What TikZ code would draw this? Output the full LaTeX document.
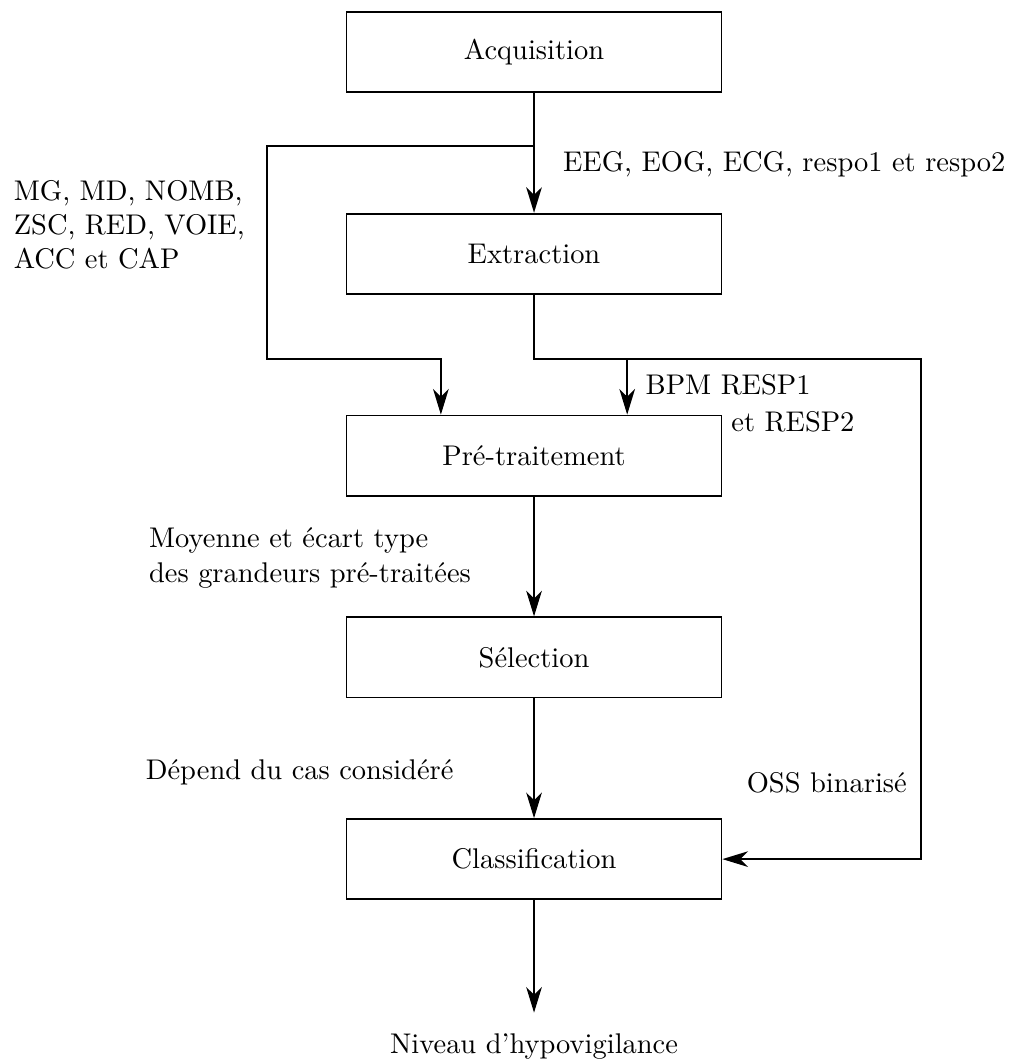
\documentclass[tikz,border=0pt]{standalone}
\usetikzlibrary{positioning,arrows.meta}

\begin{document}
\begin{tikzpicture}[>={Stealth[length=9pt,width=5.5pt,inset=2.7pt]}, semithick, node distance=1.48cm,
  bloc/.style={draw, minimum width=4.63cm, minimum height=0.99cm}]
\useasboundingbox (-6.593,0.642) rectangle (5.926,-12.432);
\node[bloc] (acq) {Acquisition};
\node[bloc, below=of acq] (extr) {Extraction};
\node[bloc, below=of extr] (pretr) {Pré-traitement};
\node[bloc, below=of pretr] (sel) {Sélection};
\node[bloc, below=of sel] (clas) {Classification};
\coordinate (split) at (0,-1.16);
\coordinate (gauche) at (-3.30,-3.79);
\coordinate (jonc) at (0,-3.79);
\coordinate (droite) at (4.78,-3.79);
\coordinate (sortie) at (0,-11.86);
\draw[->] (acq) -- (extr);
\draw[->] (split) -| (gauche) -| ([xshift=-1.15cm]pretr.north);
\draw[->] (extr) -- (jonc) -- (droite) |- (clas);
\draw[->] ([xshift=1.15cm]jonc) -- ([xshift=1.15cm]pretr.north);
\draw[->] (pretr) -- (sel);
\draw[->] (sel) -- (clas);
\draw[->] (clas) -- (sortie);
\node[anchor=base west] (lsig) at (0.23,-1.48) {EEG, EOG, ECG, respo1 et respo2};
\node[anchor=north west, align=left] (lacc) at (-6.55,-1.46) {MG, MD, NOMB,\\ZSC, RED, VOIE,\\ACC et CAP};
\node[anchor=base west] (lbpm) at (1.25,-4.23) {BPM RESP1};
\node[anchor=base west] (lresp) at (2.31,-4.69) {et RESP2};
\node[anchor=north west, align=left] (lmoy) at (-4.88,-5.75) {Moyenne et écart type\\des grandeurs pré-traitées};
\node[anchor=base west] (ldep) at (-4.92,-8.98) {Dépend du cas considéré};
\node[anchor=base east] (loss) at (4.73,-9.14) {OSS binarisé};
\node[anchor=base] (lniv) at (0,-12.36) {Niveau d'hypovigilance};
\end{tikzpicture}
\end{document}
